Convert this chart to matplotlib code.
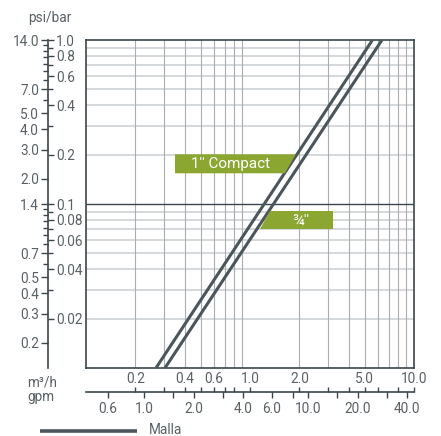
import matplotlib
matplotlib.use('Agg')
import matplotlib.pyplot as plt
from matplotlib.patches import Polygon
from matplotlib.lines import Line2D
from matplotlib.ticker import FixedLocator, FixedFormatter, NullFormatter, NullLocator

plt.rcParams['font.family'] = ['Roboto', 'DejaVu Sans']

# ---------------- data ----------------
pressure_bar = [0.01, 1.0]
flow_compact = [0.267, 5.58]     # m3/h, "1'' Compact"
flow_34 = [0.303, 6.38]          # m3/h, "3/4''"

grid_x = [0.2, 0.3, 0.4, 0.5, 0.6, 0.7, 0.8, 0.9, 2, 3, 4, 5, 6, 7, 8, 9]
grid_y = [0.9, 0.8, 0.7, 0.6, 0.5, 0.4, 0.3, 0.2,
          0.09, 0.08, 0.07, 0.06, 0.05, 0.04, 0.03, 0.02]

bar_ticks = [1.0, 0.8, 0.6, 0.4, 0.2, 0.1, 0.08, 0.06, 0.04, 0.02]
bar_labels = ['1.0', '0.8', '0.6', '0.4', '0.2', '0.1', '0.08', '0.06', '0.04', '0.02']
bar_minor = [0.9, 0.7, 0.5, 0.3, 0.09, 0.07, 0.05, 0.03]

psi_ticks = [14.0, 7.0, 5.0, 4.0, 3.0, 2.0, 1.4, 0.7, 0.5, 0.4, 0.3, 0.2]
psi_labels = ['14.0', '7.0', '5.0', '4.0', '3.0', '2.0', '1.4', '0.7', '0.5', '0.4', '0.3', '0.2']
psi_minor = [13, 12, 11, 10, 9, 8, 6, 1.3, 1.2, 1.1, 1.0, 0.9, 0.8, 0.6]
PSI_PER_BAR = 14.0

m3h_ticks = [0.2, 0.3, 0.4, 0.5, 0.6, 0.7, 0.8, 1.0, 2.0, 3.0, 4.0, 5.0, 6.0, 8.0, 10.0]
m3h_labels = ['0.2', '', '0.4', '', '0.6', '', '', '1.0', '2.0', '', '', '5.0', '', '', '10.0']
gpm_ticks = [0.44, 0.6, 1.0, 1.5, 2.0, 3.0, 4.0, 6.0, 8.0, 10.0, 15.0, 20.0, 30.0, 40.0]
gpm_labels = ['', '0.6', '1.0', '', '2.0', '', '4.0', '6.0', '', '10.0', '', '20.0', '', '40.0']
GPM_PER_M3H = 4.403

series_labels = ["1'' Compact", "¾''"]
legend_label = 'Malla'

# ---------------- styles ----------------
DARK = '#3a464b'
LINE = '#4a565b'
TXT = '#596165'
GREEN = '#8ba731'
FS = 9.8

W, H = 441, 436
fig = plt.figure(figsize=(W / 100, H / 100), dpi=100)


def fx(px):
    return px / W


def fy(py):
    return 1 - py / H


L, R, T, B = 86, 414, 40, 368

ax = fig.add_axes([fx(L), fy(B), (R - L) / W, (B - T) / H])
ax.set_xscale('log')
ax.set_yscale('log')
ax.set_xlim(0.1, 10)
ax.set_ylim(0.01, 1)
for v in grid_y:
    ax.axhline(v, color='#d5d8da', lw=1.4, zorder=1)
for v in grid_x:
    ax.axvline(v, color='#a9aeb1', lw=0.8, zorder=1)
ax.axhline(0.1, color=DARK, lw=1.0, zorder=2)
ax.plot(flow_compact, pressure_bar, color=LINE, lw=2.2, zorder=3, solid_capstyle='butt')
ax.plot(flow_34, pressure_bar, color=LINE, lw=2.2, zorder=3, solid_capstyle='butt')
ax.tick_params(which='both', length=0, labelleft=False, labelbottom=False)
for s in ax.spines.values():
    s.set_color(DARK)
    s.set_linewidth(1.2)


def axf(px, py):
    return ((px - L) / (R - L), (B - py) / (B - T))


box1 = Polygon([axf(175, 154.3), axf(295.7, 154.3), axf(285, 173.3), axf(175, 173.3)],
               closed=True, transform=ax.transAxes, facecolor=GREEN, edgecolor='none', zorder=4)
box2 = Polygon([axf(270, 211), axf(332.7, 211), axf(332.7, 229.3), axf(260, 229.3)],
               closed=True, transform=ax.transAxes, facecolor=GREEN, edgecolor='none', zorder=4)
ax.add_patch(box1)
ax.add_patch(box2)
ax.text(*axf(231, 164), series_labels[0], transform=ax.transAxes, color='white',
        fontsize=11, ha='center', va='center', zorder=5)
ax.text(*axf(301, 220.5), series_labels[1], transform=ax.transAxes, color='white',
        fontsize=11, ha='center', va='center', zorder=5)

# ---------------- left psi/bar axis ----------------
axl = fig.add_axes([fx(48), fy(B), 1e-5, (B - T) / H])
axl.patch.set_visible(False)
axl.set_yscale('log')
axl.set_ylim(0.01, 1)
axl.set_xticks([])
for s in ['top', 'bottom', 'right']:
    axl.spines[s].set_visible(False)
axl.spines['left'].set_color(DARK)
axl.spines['left'].set_linewidth(1.2)
axl.yaxis.set_ticks_position('right')
axl.yaxis.set_major_locator(FixedLocator(bar_ticks))
axl.yaxis.set_major_formatter(FixedFormatter(bar_labels))
axl.yaxis.set_minor_locator(FixedLocator(bar_minor))
axl.yaxis.set_minor_formatter(NullFormatter())
axl.tick_params(axis='y', which='major', direction='out', length=4.5, width=1.0,
                color=DARK, labelcolor=TXT, labelsize=FS, pad=1.5)
axl.tick_params(axis='y', which='minor', direction='out', length=3.5, width=1.0, color=DARK)

axp = fig.add_axes([fx(48), fy(B), 1e-5, (B - T) / H])
axp.patch.set_visible(False)
axp.set_yscale('log')
axp.set_ylim(0.01 * PSI_PER_BAR, 1 * PSI_PER_BAR)
axp.set_xticks([])
for s in axp.spines.values():
    s.set_visible(False)
axp.yaxis.set_ticks_position('left')
axp.yaxis.set_major_locator(FixedLocator(psi_ticks))
axp.yaxis.set_major_formatter(FixedFormatter(psi_labels))
axp.yaxis.set_minor_locator(FixedLocator(psi_minor))
axp.yaxis.set_minor_formatter(NullFormatter())
axp.tick_params(axis='y', which='major', direction='out', length=5.0, width=1.0,
                color=DARK, labelcolor=TXT, labelsize=FS, pad=1.5)
axp.tick_params(axis='y', which='minor', direction='out', length=3.5, width=1.0, color=DARK)

fig.text(fx(50), fy(18), 'psi/bar', ha='center', va='center', color=TXT, fontsize=FS)

# ---------------- bottom m3/h / gpm axis ----------------
YB = 392
axm = fig.add_axes([fx(L), fy(YB), (R - L) / W, 1e-5])
axm.patch.set_visible(False)
axm.set_xscale('log')
axm.set_xlim(0.1, 10)
axm.set_yticks([])
for s in ['top', 'left', 'right']:
    axm.spines[s].set_visible(False)
axm.spines['bottom'].set_color(DARK)
axm.spines['bottom'].set_linewidth(1.2)
axm.xaxis.set_ticks_position('top')
axm.xaxis.set_major_locator(FixedLocator(m3h_ticks))
axm.xaxis.set_major_formatter(FixedFormatter(m3h_labels))
axm.xaxis.set_minor_locator(NullLocator())
axm.tick_params(axis='x', which='major', direction='out', length=3.5, width=1.0,
                color=DARK, labelcolor=TXT, labelsize=FS, pad=1.0)

axg = fig.add_axes([fx(L), fy(YB), (R - L) / W, 1e-5])
axg.patch.set_visible(False)
axg.set_xscale('log')
axg.set_xlim(0.1 * GPM_PER_M3H, 10 * GPM_PER_M3H)
axg.set_yticks([])
for s in axg.spines.values():
    s.set_visible(False)
axg.xaxis.set_ticks_position('bottom')
axg.xaxis.set_major_locator(FixedLocator(gpm_ticks))
axg.xaxis.set_major_formatter(FixedFormatter(gpm_labels))
axg.xaxis.set_minor_locator(NullLocator())
axg.tick_params(axis='x', which='major', direction='out', length=4.0, width=1.0,
                color=DARK, labelcolor=TXT, labelsize=FS, pad=3.0)

fig.text(fx(27), fy(382), 'm³/h', ha='left', va='center', color=TXT, fontsize=FS)
fig.text(fx(27), fy(397), 'gpm', ha='left', va='center', color=TXT, fontsize=FS)

# ---------------- legend ----------------
fig.add_artist(Line2D([fx(40), fx(137)], [fy(430.5), fy(430.5)], color=LINE, lw=2.6,
                      solid_capstyle='butt'))
fig.text(fx(149), fy(430), legend_label, ha='left', va='center', color=TXT, fontsize=FS)

fig.savefig('out.png', dpi=100)
